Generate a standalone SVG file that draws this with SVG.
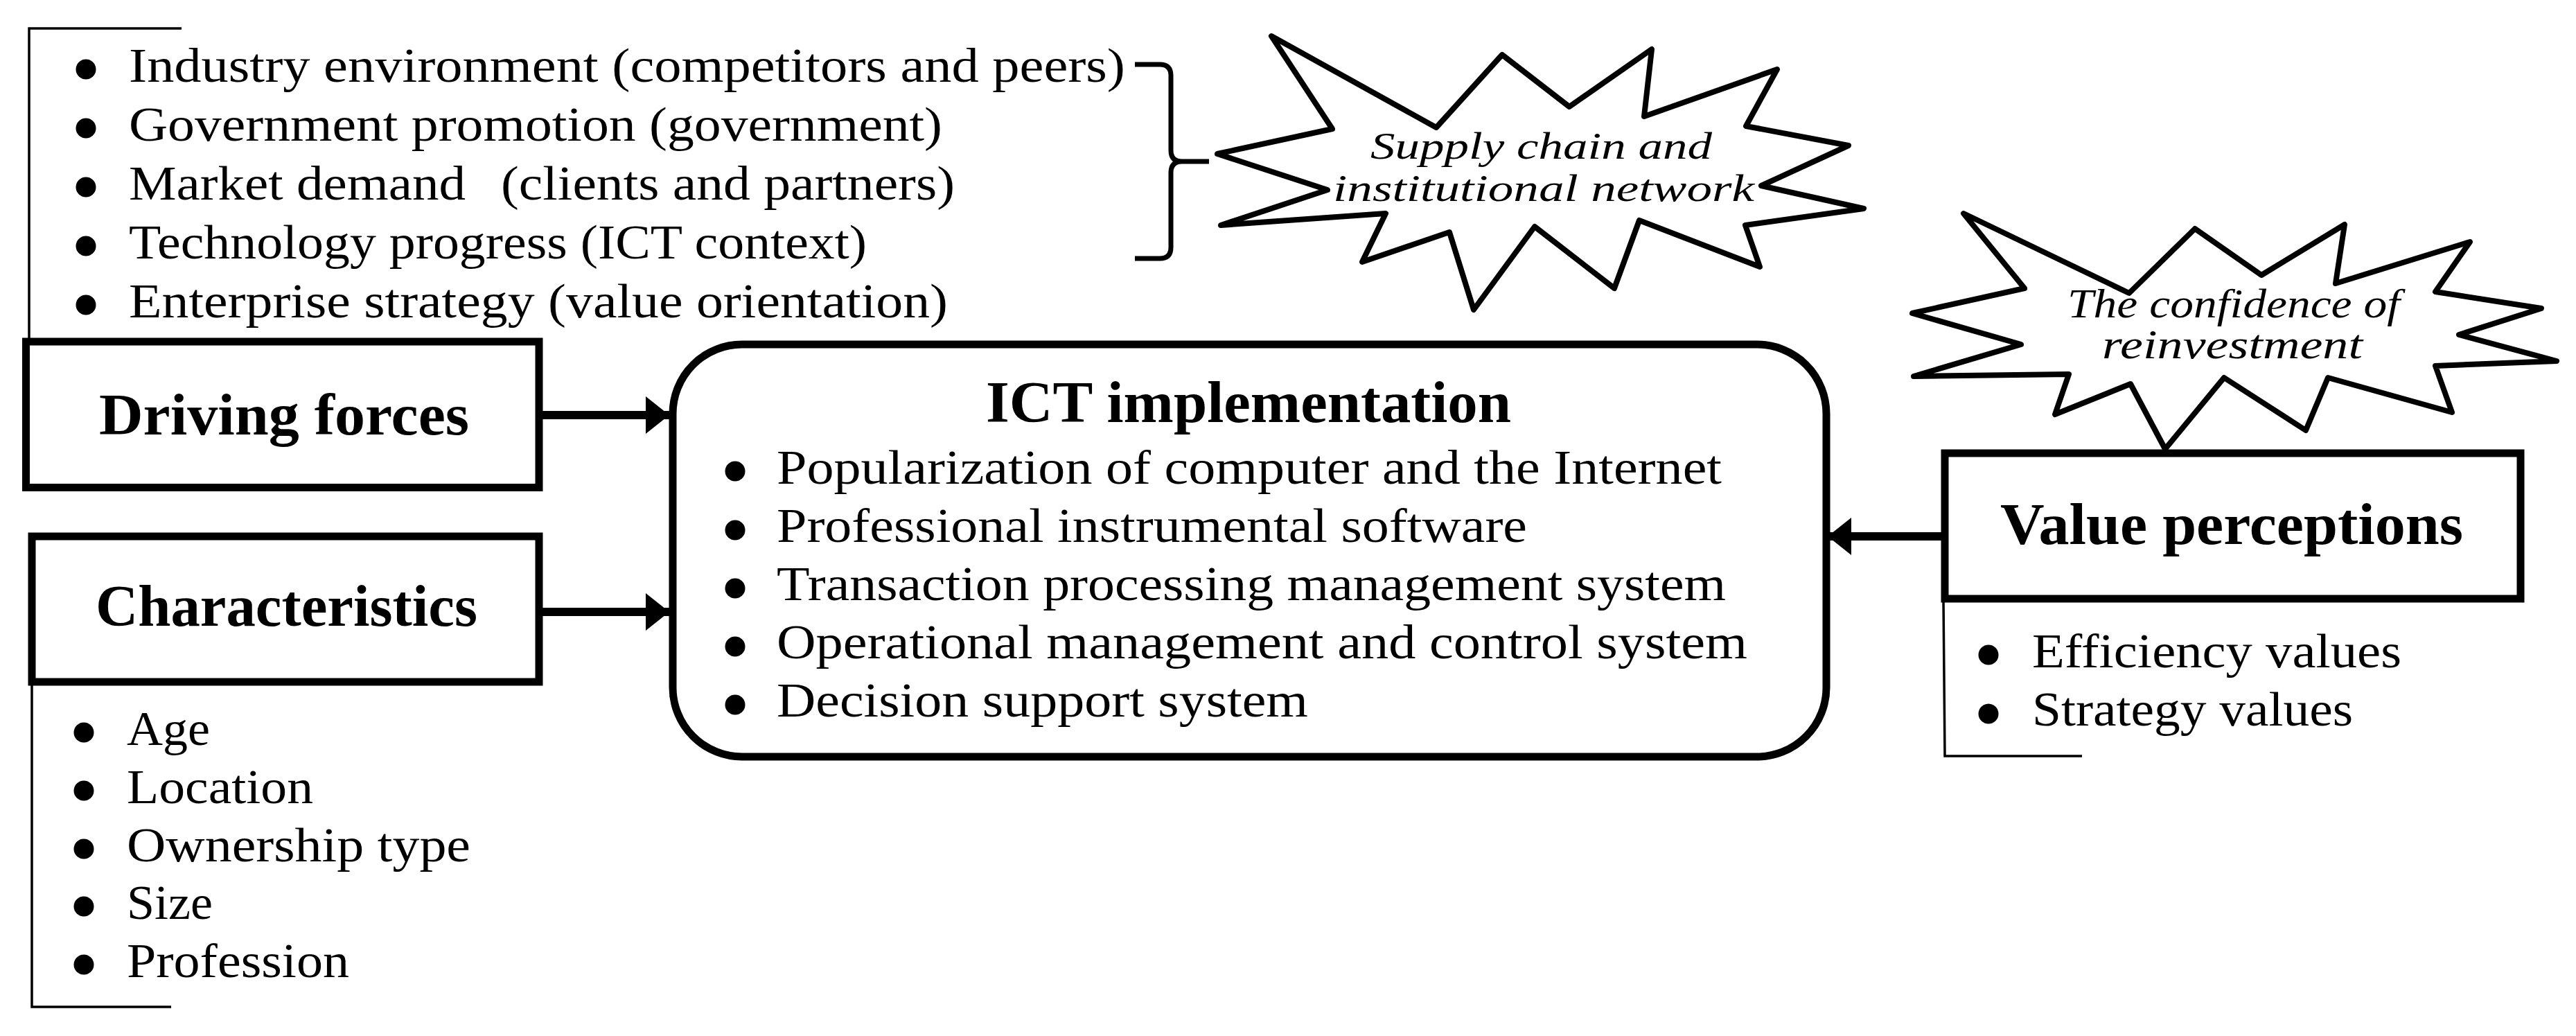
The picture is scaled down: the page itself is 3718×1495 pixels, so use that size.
<svg xmlns="http://www.w3.org/2000/svg" width="3718" height="1495" viewBox="0 0 3718 1495">
<style>
text{font-family:"Liberation Serif","Times New Roman",serif;fill:#000}
.b{font-size:70px}
.t{font-size:84px;font-weight:bold}
.s{font-size:60px;font-style:italic}
.s2{font-size:55px;font-style:italic}
.box{fill:#fff;stroke:#000;stroke-width:11}
.thin{fill:none;stroke:#000;stroke-width:3.5}
.brace{fill:none;stroke:#000;stroke-width:7}
.star{fill:#fff;stroke:#000;stroke-width:8;stroke-linejoin:round}
.con{stroke:#000;stroke-width:12;fill:none}
</style>
<defs>
<marker id="ah" markerUnits="userSpaceOnUse" markerWidth="36" markerHeight="56" refX="34" refY="27" orient="auto">
<path d="M0,0 L34,27 L0,54 Z" fill="#000"/>
</marker>
</defs>
<rect width="3718" height="1495" fill="#fff"/>

<g id="driving-list">
<path class="thin" d="M262,41 H42 V490"/>
<g fill="#000">
<circle cx="124" cy="100" r="14.5"/><circle cx="124" cy="185" r="14.5"/><circle cx="124" cy="270" r="14.5"/><circle cx="124" cy="355" r="14.5"/><circle cx="124" cy="440" r="14.5"/>
</g>
<text class="b" x="186" y="118" textLength="1438" lengthAdjust="spacingAndGlyphs">Industry environment (competitors and peers)</text>
<text class="b" x="186" y="203" textLength="1174" lengthAdjust="spacingAndGlyphs">Government promotion (government)</text>
<text class="b" x="186" y="288" textLength="486" lengthAdjust="spacingAndGlyphs">Market demand</text>
<text class="b" x="723" y="288" textLength="655" lengthAdjust="spacingAndGlyphs">(clients and partners)</text>
<text class="b" x="186" y="373" textLength="1065" lengthAdjust="spacingAndGlyphs">Technology progress (ICT context)</text>
<text class="b" x="186" y="458" textLength="1182" lengthAdjust="spacingAndGlyphs">Enterprise strategy (value orientation)</text>
<path class="brace" d="M1638,93 H1674 Q1690,93 1690,109 V217 Q1690,233 1706,233 H1745 M1706,233 Q1690,233 1690,249 V357 Q1690,373 1674,373 H1638"/>
</g>

<g id="driving-forces">
<rect class="box" x="37.5" y="493" width="740.5" height="210.5"/>
<text class="t" x="143" y="627" textLength="534" lengthAdjust="spacingAndGlyphs">Driving forces</text>
</g>

<g id="characteristics">
<rect class="box" x="46" y="774" width="732" height="210"/>
<text class="t" x="138" y="903" textLength="551" lengthAdjust="spacingAndGlyphs">Characteristics</text>
<path class="thin" d="M46,984 V1453 H247"/>
<g fill="#000">
<circle cx="121" cy="1057" r="14.5"/><circle cx="121" cy="1141" r="14.5"/><circle cx="121" cy="1225" r="14.5"/><circle cx="121" cy="1308" r="14.5"/><circle cx="121" cy="1392" r="14.5"/>
</g>
<text class="b" x="183" y="1075" textLength="120" lengthAdjust="spacingAndGlyphs">Age</text>
<text class="b" x="183" y="1159" textLength="269" lengthAdjust="spacingAndGlyphs">Location</text>
<text class="b" x="183" y="1243" textLength="496" lengthAdjust="spacingAndGlyphs">Ownership type</text>
<text class="b" x="183" y="1326" textLength="124" lengthAdjust="spacingAndGlyphs">Size</text>
<text class="b" x="183" y="1410" textLength="321" lengthAdjust="spacingAndGlyphs">Profession</text>
</g>

<g id="ict-implementation">
<rect class="box" x="971" y="497" width="1665" height="595" rx="100" ry="100"/>
<text class="t" x="1423" y="609" textLength="758" lengthAdjust="spacingAndGlyphs">ICT implementation</text>
<g fill="#000">
<circle cx="1061" cy="680" r="14.5"/><circle cx="1061" cy="765" r="14.5"/><circle cx="1061" cy="849" r="14.5"/><circle cx="1061" cy="933" r="14.5"/><circle cx="1061" cy="1017" r="14.5"/>
</g>
<text class="b" x="1121" y="698" textLength="1364" lengthAdjust="spacingAndGlyphs">Popularization of computer and the Internet</text>
<text class="b" x="1121" y="782" textLength="1083" lengthAdjust="spacingAndGlyphs">Professional instrumental software</text>
<text class="b" x="1121" y="866" textLength="1370" lengthAdjust="spacingAndGlyphs">Transaction processing management system</text>
<text class="b" x="1121" y="950" textLength="1401" lengthAdjust="spacingAndGlyphs">Operational management and control system</text>
<text class="b" x="1121" y="1034" textLength="767" lengthAdjust="spacingAndGlyphs">Decision support system</text>
</g>

<g id="value-perceptions">
<rect class="box" x="2807" y="654" width="831" height="210"/>
<text class="t" x="2887" y="785" textLength="668" lengthAdjust="spacingAndGlyphs">Value perceptions</text>
<path class="thin" d="M2805,866 L2807,1091 H3005"/>
<g fill="#000">
<circle cx="2870" cy="945" r="14.5"/><circle cx="2870" cy="1030" r="14.5"/>
</g>
<text class="b" x="2933" y="963" textLength="533" lengthAdjust="spacingAndGlyphs">Efficiency  values</text>
<text class="b" x="2933" y="1047" textLength="463" lengthAdjust="spacingAndGlyphs">Strategy values</text>
</g>

<g id="supply-chain-star">
<polygon class="star" points="1835,52 2073,184 2168,79 2265,154 2384,71 2373,168 2565,100 2520,182 2668,210 2542,268 2690,301 2519,325 2540,385 2366,318 2330,416 2215,327 2127,447 2092,335 1966,378 2000,308 1762,325 1916,274 1757,222 1923,186"/>
<text class="s2" x="1978" y="229" textLength="493" lengthAdjust="spacingAndGlyphs">Supply chain and</text>
<text class="s2" x="1924" y="290" textLength="608" lengthAdjust="spacingAndGlyphs">institutional network</text>
</g>

<g id="confidence-star">
<polygon class="star" points="2834,308 3073,423 3168,330 3264,397 3384,324 3371,409 3565,349 3515,421 3668,445 3549,483 3690,521 3515,528 3539,595 3360,545 3328,621 3210,545 3125,648 3075,554 2966,598 2986,540 2762,543 2917,497 2760,452 2922,416"/>
<text class="s" x="2984" y="458" textLength="480" lengthAdjust="spacingAndGlyphs">The confidence of</text>
<text class="s" x="3034" y="517" textLength="376" lengthAdjust="spacingAndGlyphs">reinvestment</text>
</g>

<g id="connectors">
<line class="con" x1="783" y1="599" x2="966" y2="599" marker-end="url(#ah)"/>
<line class="con" x1="783" y1="883" x2="966" y2="883" marker-end="url(#ah)"/>
<line class="con" x1="2802" y1="774" x2="2638" y2="774" marker-end="url(#ah)"/>
</g>
</svg>
